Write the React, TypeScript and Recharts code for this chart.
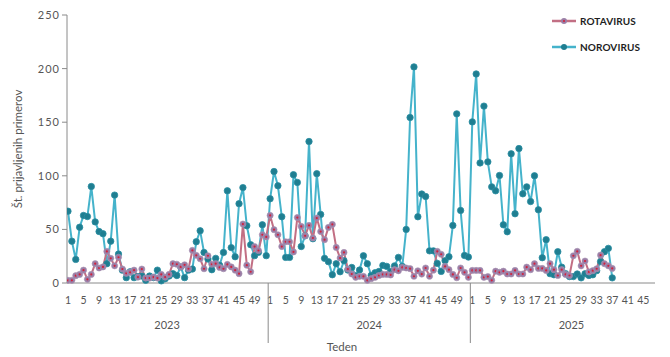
import React from 'react';
import { LineChart, Line, XAxis, YAxis, Legend } from 'recharts';

const years = ['2023', '2024', '2025'];
const weeksInYear = [52, 52, 48];

const rota2023 = [2.5, 2.5, 6.8, 8, 12, 3.4, 8, 18, 14, 15, 29.5, 23, 16, 24, 13, 9, 10, 12, 5.5, 13, 4.6, 4.6, 5.5, 4.6, 8, 5.5, 8, 18, 17.5, 15, 17, 13.3, 30.4, 25.8, 22.6, 13.3, 25.4, 17.5, 18, 14.5, 13.3, 17.3, 15, 12, 8.7, 55, 16.6, 10.5, 34, 30.3, 45, 43];
const noro2023 = [67, 39, 22, 52, 63, 62, 90, 57, 48, 46, 18, 39, 82, 27, 12, 5, 10.5, 5, 6, 6.5, 2.5, 6.5, 5, 12, 2, 4, 6.5, 8.7, 7, 15, 5, 12, 13, 38.5, 48.7, 28.5, 22.4, 12.4, 23, 16.6, 28.5, 86, 33, 24.5, 74, 89, 53.4, 35.7, 25.5, 28.6, 54.3, 25.5];
const rota2024 = [63, 49.7, 45, 34, 38.5, 38.5, 29, 61, 52.8, 44, 53.7, 42, 60.6, 48, 40.4, 51.8, 54.6, 33.2, 23.3, 28.5, 13, 8.4, 5.3, 6.2, 6.2, 2.5, 4, 5.3, 7, 8, 8, 7.5, 12.4, 11.4, 14.5, 14, 13.4, 6.3, 11.4, 8.3, 14, 6.3, 12, 29.5, 26.8, 15.5, 12.4, 8, 4.9, 14, 10, 5.3];
const noro2024 = [78.6, 104, 90.7, 61.8, 23.9, 23.9, 101, 93.8, 34, 44, 132, 41.3, 102, 64, 23, 19.9, 7.7, 18, 10.5, 20.8, 12.1, 14.5, 6.8, 12.1, 25.4, 18, 7.1, 9.6, 10.8, 16.4, 15.5, 10.8, 16, 23.9, 15.5, 50, 154.4, 201.6, 61.8, 83, 80.7, 30, 30, 18.3, 10.8, 20.8, 24.5, 53.7, 157.8, 67.7, 25.7, 24.2];
const rota2025 = [11.7, 11.7, 11.7, 5.3, 6, 2.5, 11, 10, 11, 8.4, 8.4, 11.7, 8.4, 8.4, 14.8, 12.4, 18, 13.6, 13.6, 11.7, 18, 12.4, 7, 12.4, 8, 7, 25.4, 29.5, 16, 20.5, 10.3, 11.5, 13.3, 26, 18, 16, 13.6];
const noro2025 = [150.3, 195, 112, 165, 113, 89.7, 86, 100.3, 54.3, 47.8, 120.5, 64.6, 125.4, 83.2, 89.7, 76, 100, 68.3, 23.6, 40.4, 8.7, 7.7, 29.2, 14.8, 8.7, 6, 6, 8.4, 4.8, 8.6, 7, 7.7, 11.5, 20, 29.2, 32.3, 4.8];

const yTicks = [0, 50, 100, 150, 200, 250];
const seriesNames = ['ROTAVIRUS', 'NOROVIRUS'];

const ROTA_LINE = '#c26f84';
const ROTA_DOT = '#9a7ea6';
const ROTA_CENTER = '#d2213c';
const NORO_LINE = '#45b3cb';
const NORO_DOT = '#1f7e91';
const AXIS = '#8a8a8a';
const TEXT = '#555555';
const FONT = 'Lato, "Open Sans", sans-serif';

type Row = { i: number; year: string; week: number; rota: number | null; noro: number | null };

const rotaByYear = [rota2023, rota2024, rota2025];
const noroByYear = [noro2023, noro2024, noro2025];
const data: Row[] = [];
const yearStart: number[] = [];
let idx = 0;
years.forEach((y, k) => {
  yearStart.push(idx);
  for (let w = 1; w <= weeksInYear[k]; w++) {
    const r = rotaByYear[k][w - 1];
    const n = noroByYear[k][w - 1];
    data.push({ i: idx, year: y, week: w, rota: r === undefined ? null : r, noro: n === undefined ? null : n });
    idx++;
  }
});
const lastIdx = idx - 1;
const weekTicks = data.filter((d) => d.week % 4 === 1).map((d) => d.i);
const separators = yearStart.slice(1).map((s) => s - 0.5);
const yearCenters = yearStart.map((s) => s + 25.5);
const yearTicks = [...separators, ...yearCenters];

const RotaDot = (p: any) => {
  const { cx, cy, index } = p;
  if (cx == null || cy == null || p.value == null) return <g key={`r${index}`} />;
  return (
    <g key={`r${index}`}>
      <circle cx={cx} cy={cy} r={3.1} fill={ROTA_DOT} stroke="#a993b3" strokeWidth={0.6} />
      <circle cx={cx} cy={cy} r={1.1} fill={ROTA_CENTER} />
    </g>
  );
};

const NoroDot = (p: any) => {
  const { cx, cy, index } = p;
  if (cx == null || cy == null || p.value == null) return <g key={`n${index}`} />;
  return <circle key={`n${index}`} cx={cx} cy={cy} r={3.2} fill={NORO_DOT} stroke="#2b8ea2" strokeWidth={0.8} />;
};

const WeekTick = (p: any) => {
  const { x, y, payload } = p;
  const row = data[Math.round(payload.value)];
  return (
    <text x={x} y={y + 13} textAnchor="middle" fill={TEXT} fontSize={10.5} fontFamily={FONT}>
      {row ? row.week : ''}
    </text>
  );
};

const YearTick = (p: any) => {
  const { x, payload } = p;
  const v = payload.value;
  if (separators.includes(v)) {
    return <line x1={x} x2={x} y1={283} y2={343} stroke={AXIS} strokeWidth={1} />;
  }
  const k = yearCenters.indexOf(v);
  return (
    <text x={x} y={326} textAnchor="middle" dominantBaseline="middle" fill={TEXT} fontSize={11} fontFamily={FONT}>
      {years[k]}
    </text>
  );
};

const LegendContent = () => (
  <div style={{ fontFamily: FONT }}>
    {seriesNames.map((name, k) => (
      <div key={name} style={{ display: 'flex', alignItems: 'center', height: 26 }}>
        <svg width={28} height={10} style={{ display: 'block' }}>
          <line x1={0} x2={24} y1={5} y2={5} stroke={k === 0 ? ROTA_LINE : NORO_LINE} strokeWidth={2.5} />
          {k === 0 ? (
            <g>
              <circle cx={12} cy={5} r={3} fill={ROTA_DOT} />
              <circle cx={12} cy={5} r={1.1} fill={ROTA_CENTER} />
            </g>
          ) : (
            <circle cx={12} cy={5} r={3} fill={NORO_DOT} />
          )}
        </svg>
        <span style={{ fontSize: 10, fontWeight: 700, color: '#1e1e1e', letterSpacing: 0.1 }}>{name}</span>
      </div>
    ))}
  </div>
);

export default function App() {
  return (
    <div style={{ position: 'absolute', left: 0, top: 0, width: 670, height: 357, background: '#fff' }}>
      <LineChart width={670} height={357} data={data} margin={{ top: 15, right: 15, bottom: 0, left: 7 }}>
        <XAxis
          dataKey="i"
          type="number"
          domain={[-0.25, lastIdx]}
          ticks={weekTicks}
          interval={0}
          tick={<WeekTick />}
          tickLine={false}
          axisLine={{ stroke: AXIS }}
          height={26}
          allowDataOverflow
        />
        <XAxis
          xAxisId="yr"
          dataKey="i"
          type="number"
          domain={[-0.25, lastIdx]}
          ticks={yearTicks}
          interval={0}
          tick={<YearTick />}
          tickLine={false}
          axisLine={false}
          height={48}
          allowDataOverflow
          label={{ value: 'Teden', position: 'insideBottom', offset: 6, dx: -19, fill: TEXT, fontSize: 11.5, fontFamily: FONT }}
        />
        <YAxis
          domain={[0, 250]}
          ticks={yTicks}
          interval={0}
          width={60}
          tickSize={5}
          tickLine={{ stroke: AXIS }}
          axisLine={{ stroke: AXIS }}
          tick={{ fill: TEXT, fontSize: 11, fontFamily: FONT, letterSpacing: 1 }}
          label={{
            content: () => (
              <text x={22} y={149} transform="rotate(-90 22 149)" textAnchor="middle" fill={TEXT} fontSize={11.5} fontFamily={FONT}>
                Št. prijavljenih primerov
              </text>
            ),
          }}
        />
        <Legend
          layout="horizontal"
          verticalAlign="top"
          align="right"
          content={<LegendContent />}
          wrapperStyle={{ top: 8, left: 552, width: 118, height: 0, overflow: 'visible' }}
        />
        <Line
          type="linear"
          dataKey="noro"
          name="NOROVIRUS"
          stroke={NORO_LINE}
          strokeWidth={2}
          dot={<NoroDot />}
          activeDot={false}
          isAnimationActive={false}
        />
        <Line
          type="linear"
          dataKey="rota"
          name="ROTAVIRUS"
          stroke={ROTA_LINE}
          strokeWidth={2}
          dot={<RotaDot />}
          activeDot={false}
          isAnimationActive={false}
        />
      </LineChart>
    </div>
  );
}
